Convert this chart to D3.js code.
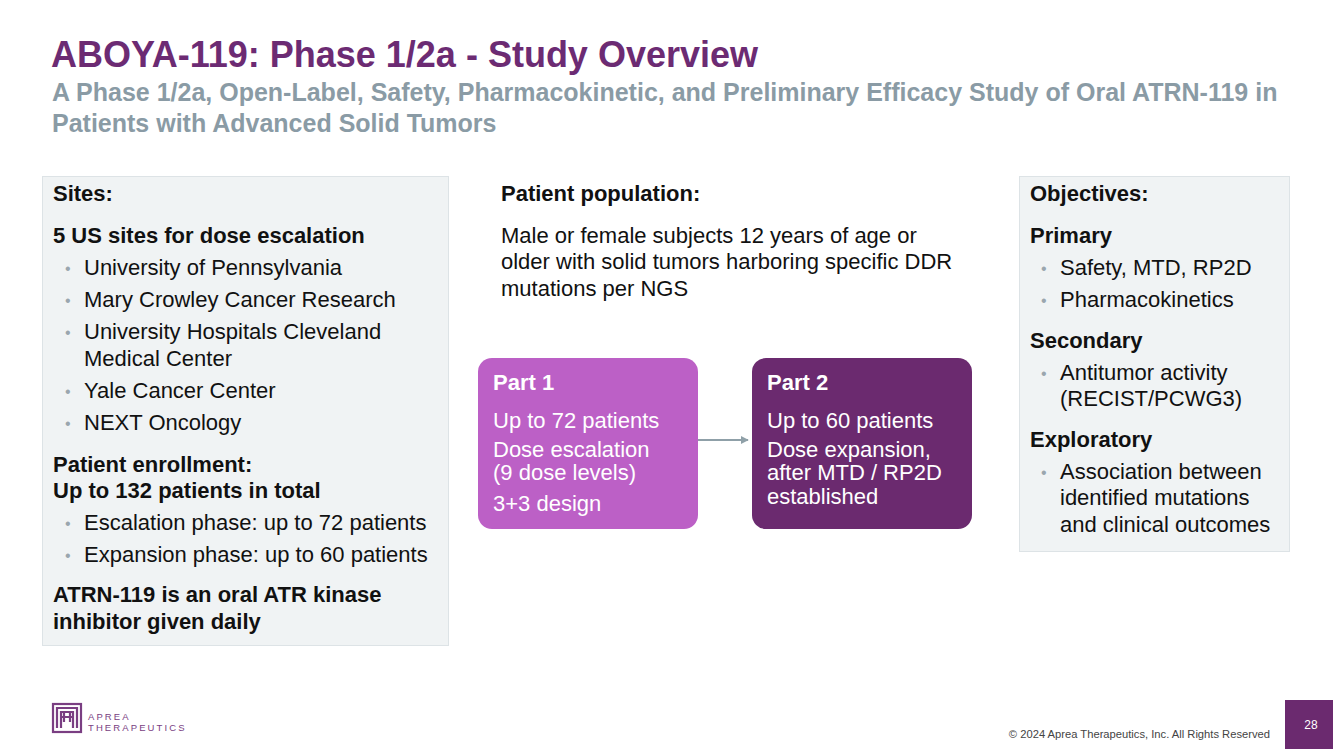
<!DOCTYPE html>
<html><head><meta charset="utf-8">
<script src="https://cdn.jsdelivr.net/npm/d3@7"></script>
<style>
html,body{margin:0;padding:0;background:#fff;}
svg{display:block;font-family:"Liberation Sans",Arial,sans-serif;}
</style></head>
<body>
<script>
// ---- content ----
const titleText = "ABOYA-119: Phase 1/2a - Study Overview";
const subtitleLines = [
  "A Phase 1/2a, Open-Label, Safety, Pharmacokinetic, and Preliminary Efficacy Study of Oral ATRN-119 in",
  "Patients with Advanced Solid Tumors"
];
// type: h = bold heading, b = bullet, c = bullet continuation, t = plain
const sitesLines = [
  ["h","Sites:",201],
  ["h","5 US sites for dose escalation",243],
  ["b","University of Pennsylvania",275],
  ["b","Mary Crowley Cancer Research",307],
  ["b","University Hospitals Cleveland",339],
  ["c","Medical Center",366],
  ["b","Yale Cancer Center",398],
  ["b","NEXT Oncology",430],
  ["h","Patient enrollment:",472],
  ["h","Up to 132 patients in total",498],
  ["b","Escalation phase: up to 72 patients",530],
  ["b","Expansion phase: up to 60 patients",562],
  ["h","ATRN-119 is an oral ATR kinase",602],
  ["h","inhibitor given daily",629]
];
const populationLines = [
  ["h","Patient population:",201],
  ["t","Male or female subjects 12 years of age or",243],
  ["t","older with solid tumors harboring specific DDR",269],
  ["t","mutations per NGS",296]
];
const objectivesLines = [
  ["h","Objectives:",201],
  ["h","Primary",243],
  ["b","Safety, MTD, RP2D",275],
  ["b","Pharmacokinetics",307],
  ["h","Secondary",348],
  ["b","Antitumor activity",380],
  ["c","(RECIST/PCWG3)",406],
  ["h","Exploratory",447],
  ["b","Association between",479],
  ["c","identified mutations",505],
  ["c","and clinical outcomes",532]
];
const parts = [
  {name:"Part 1", fill:"#BC60C6", lines:[["Up to 72 patients",428],["Dose escalation",457],["(9 dose levels)",480],["3+3 design",511]]},
  {name:"Part 2", fill:"#6B2A6F", lines:[["Up to 60 patients",428],["Dose expansion,",457],["after MTD / RP2D",480],["established",504]]}
];
const footerText = "© 2024 Aprea Therapeutics, Inc. All Rights Reserved";
const pageNumber = "28";
const logoWords = ["APREA","THERAPEUTICS"];

// ---- drawing ----
const W = 1333, H = 749;
const purple = "#6C2B73", gray = "#8A9BA5", boxFill = "#F0F3F4", boxStroke = "#DDE3E6";
const FS = 22;
const svg = d3.select("body").append("svg").attr("width", W).attr("height", H);

svg.append("text").attr("x",51).attr("y",67).attr("fill",purple)
  .attr("font-size",36).attr("font-weight","bold").text(titleText);
svg.selectAll(".sub").data(subtitleLines).join("text")
  .attr("x",52).attr("y",(d,i)=>101+i*31).attr("fill",gray)
  .attr("font-size",25).attr("font-weight","bold").text(d=>d);

function panel(x0, y0, x1, y1){
  svg.append("rect").attr("x",x0+0.5).attr("y",y0+0.5).attr("width",x1-x0).attr("height",y1-y0)
    .attr("fill",boxFill).attr("stroke",boxStroke);
}
function textBlock(lines, x, bulletX, textX){
  const g = svg.append("g");
  lines.forEach(([type, txt, y]) => {
    if(type==="b"){
      g.append("text").attr("x",bulletX).attr("y",y-1).attr("fill","#9AA6AE").attr("font-size",16).text("•");
    }
    g.append("text").attr("x", (type==="b"||type==="c") ? textX : x).attr("y",y)
      .attr("fill","#111").attr("font-size",FS)
      .attr("font-weight", type==="h" ? "bold" : "normal").text(txt);
  });
}
panel(42,176,448,645);
textBlock(sitesLines, 53, 65, 84);
textBlock(populationLines, 501, 0, 0);
panel(1019,176,1289,551);
textBlock(objectivesLines, 1030, 1041, 1060);

// part boxes
const bx = d3.scaleOrdinal().domain(parts.map(p=>p.name)).range([478,752]);
parts.forEach(p=>{
  const x = bx(p.name);
  svg.append("rect").attr("x",x).attr("y",358).attr("width",220).attr("height",171)
    .attr("rx",14).attr("fill",p.fill);
  svg.append("text").attr("x",x+15).attr("y",390).attr("fill","#fff").attr("font-size",FS)
    .attr("font-weight","bold").text(p.name);
  p.lines.forEach(([t,y])=>{
    svg.append("text").attr("x",x+15).attr("y",y).attr("fill","#fff").attr("font-size",FS).text(t);
  });
});
// arrow
svg.append("defs").append("marker").attr("id","ah").attr("viewBox","0 0 10 10")
  .attr("refX",9).attr("refY",5).attr("markerWidth",4).attr("markerHeight",4).attr("orient","auto")
  .append("path").attr("d","M0,0L10,5L0,10z").attr("fill","#8FA0A8");
svg.append("line").attr("x1",698).attr("x2",748).attr("y1",440).attr("y2",440)
  .attr("stroke","#8FA0A8").attr("stroke-width",2).attr("marker-end","url(#ah)");

// footer
svg.append("text").attr("x",1270).attr("y",738).attr("text-anchor","end")
  .attr("fill","#444").attr("font-size",11.2).text(footerText);
svg.append("rect").attr("x",1285).attr("y",700).attr("width",48).attr("height",49).attr("fill","#6B2A6F");
svg.append("text").attr("x",1311).attr("y",729).attr("text-anchor","middle")
  .attr("fill","#fff").attr("font-size",12).text(pageNumber);

// logo
const lg = svg.append("g").attr("fill","none").attr("stroke","#7A3E82").attr("stroke-width",2.2);
lg.append("rect").attr("x",53).attr("y",704).attr("width",28).attr("height",28);
lg.append("path").attr("d","M57,728 V708 H77 V728");
lg.append("path").attr("d","M61,728 V712 H73 V728");
lg.append("path").attr("d","M64,712 V722 M70,712 V722 M61,717 H73");
svg.selectAll(".logo").data(logoWords).join("text")
  .attr("x",88).attr("y",(d,i)=>720+i*11).attr("fill","#7A3E82")
  .attr("font-size",9.5).attr("letter-spacing",2.1).text(d=>d);
</script>
</body></html>
